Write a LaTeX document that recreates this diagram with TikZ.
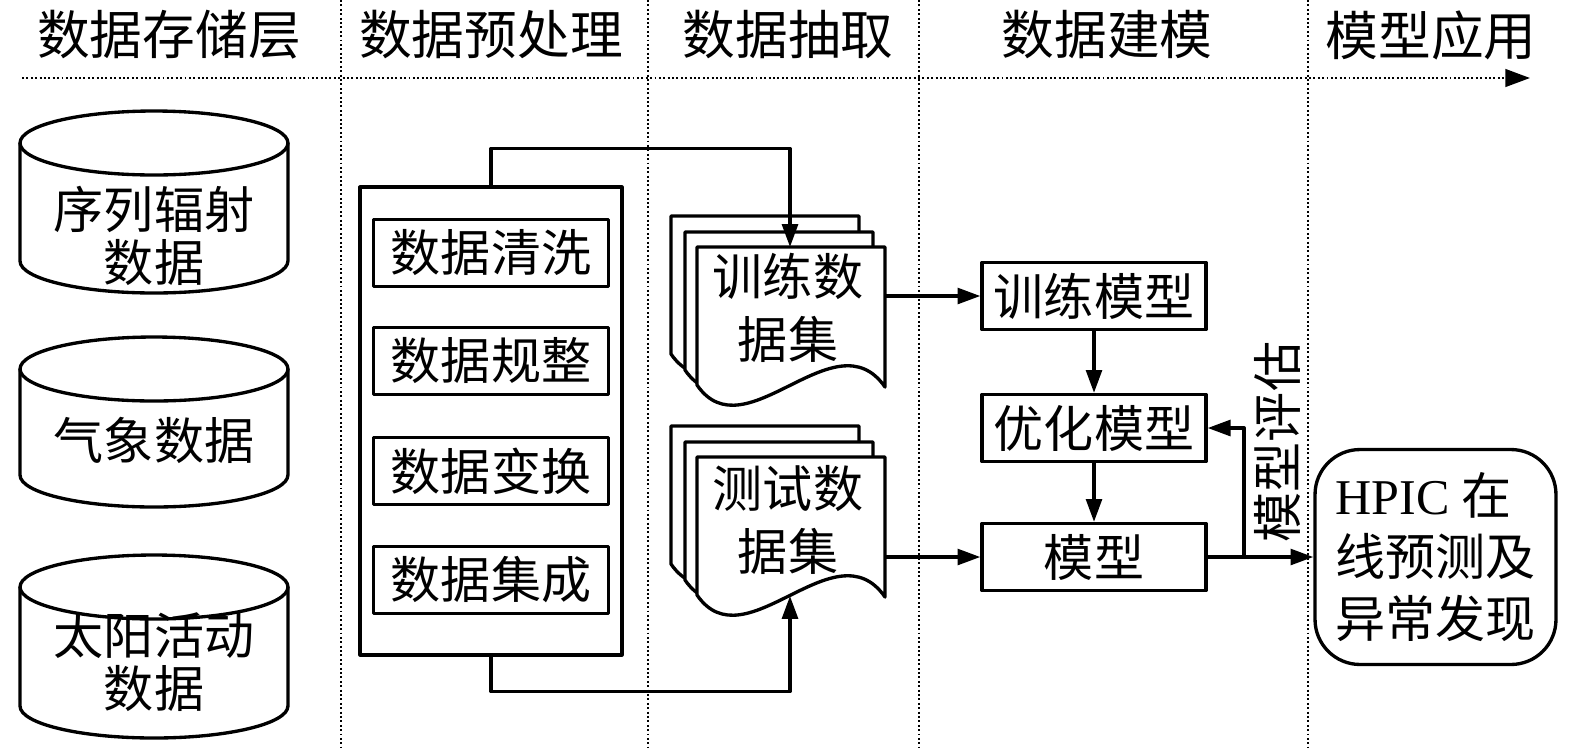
\documentclass[tikz,border=0pt]{standalone}
\usepackage{fontspec}
\setmainfont{Liberation Serif}
\newfontfamily\cjk{Noto Sans CJK SC}
\usetikzlibrary{arrows.meta}
\newcommand\mycyl[3]{%
  \draw[lw] (#1,#2) ellipse [x radius=2.68cm, y radius=0.64cm];
  \draw[lw] (#1-134,#2) -- (#1-134,#3) arc [start angle=180, end angle=360, x radius=2.68cm, y radius=0.64cm] -- (#1+134,#2);}
\begin{document}
\begin{tikzpicture}[x=0.02cm, y=-0.02cm,
  lw/.style={line width=1.9pt, line join=round},
  txt/.style={font=\cjk\fontsize{28.5}{30}\selectfont, inner sep=0pt},
  htxt/.style={font=\cjk\fontsize{30}{32}\selectfont, inner sep=0pt},
  doctxt/.style={font=\cjk\fontsize{28.5}{35.7}\selectfont, inner sep=0pt, align=center},
  box/.style={draw, lw, txt, minimum width=4.7cm, minimum height=1.34cm, inner sep=0pt},
  arr/.style={lw, -{Triangle[length=13pt, width=9pt]}},
  sep/.style={line width=1.4pt, dash pattern=on 1.1pt off 1.4pt},
  docsheet/.pic={\draw[lw, fill=white] (0,0) -- (188,0) -- (188,140) .. controls (138,68) and (48,208) .. (0,138) -- cycle;}
]
\useasboundingbox (0,0) rectangle (1575,748);
% header
\node[htxt] (h1) at (169,35) {数据存储层};
\node[htxt] (h2) at (491,35) {数据预处理};
\node[htxt] (h3) at (788,35) {数据抽取};
\node[htxt] (h4) at (1107,35) {数据建模};
\node[htxt] (h5) at (1431,35) {模型应用};
% separators
\draw[sep] (341,0) -- (341,748);
\draw[sep] (648,0) -- (648,748);
\draw[sep] (919,0) -- (919,748);
\draw[sep] (1308,0) -- (1308,748);
\draw[sep, -{Triangle[length=14pt, width=10pt]}] (22,78) -- (1530,78);
% cylinders
\mycyl{154}{143}{261}
\mycyl{154}{369}{475}
\mycyl{154}{587}{706}
\node[txt, align=center] (c1) at (154,236) {序列辐射\\数据};
\node[txt] (c2) at (154,440) {气象数据};
\node[txt, align=center] (c3) at (154,662) {太阳活动\\数据};
% preprocessing
\node[draw, lw, minimum width=5.24cm, minimum height=9.36cm] (pre) at (491,421) {};
\node[box] (p1) at (491,253) {数据清洗};
\node[box] (p2) at (491,361) {数据规整};
\node[box] (p3) at (491,471) {数据变换};
\node[box] (p4) at (491,580) {数据集成};
% training docs
\pic at (671,216) {docsheet};
\pic at (685,232) {docsheet};
\pic at (697,247) {docsheet};
\node[doctxt] (trainTxt) at (788,308) {训练数\\据集};
% test docs
\pic at (671,426) {docsheet};
\pic at (685,442) {docsheet};
\pic at (697,457) {docsheet};
\node[doctxt] (testTxt) at (788,520) {测试数\\据集};
\coordinate (trainTop) at (790,247);
\coordinate (testBot) at (790,596);
\coordinate (trainR) at (885,296);
\coordinate (testR) at (885,557);
\draw[arr] (pre.north) -- ++(0,-37) -| (trainTop);
\draw[arr] (pre.south) -- ++(0,35) -| (testBot);
% modelling
\node[box, minimum width=4.48cm] (m1) at (1094,296) {训练模型};
\node[box, minimum width=4.48cm] (m2) at (1094,428) {优化模型};
\node[box, minimum width=4.48cm] (m3) at (1094,557) {模型};
\draw[arr] (trainR) -- (m1.west);
\draw[arr] (testR) -- (m3.west);
\draw[arr] (m1) -- (m2);
\draw[arr] (m2) -- (m3);
% application
\node[draw, lw, rounded corners=0.9cm, minimum width=4.82cm, minimum height=4.3cm, align=left, font=\fontsize{28.5}{35}\selectfont] (app) at (1435.5,557) {HPIC {\cjk 在}\\{\cjk 线预测及}\\{\cjk 异常发现}};
\draw[arr] (m3.east) -- (app.west);
\coordinate (br) at (1244,557);
\draw[arr] (br) |- (m2.east);
\node[txt, rotate=90] (eval) at (1277,442) {模型评估};
\end{tikzpicture}
\end{document}
